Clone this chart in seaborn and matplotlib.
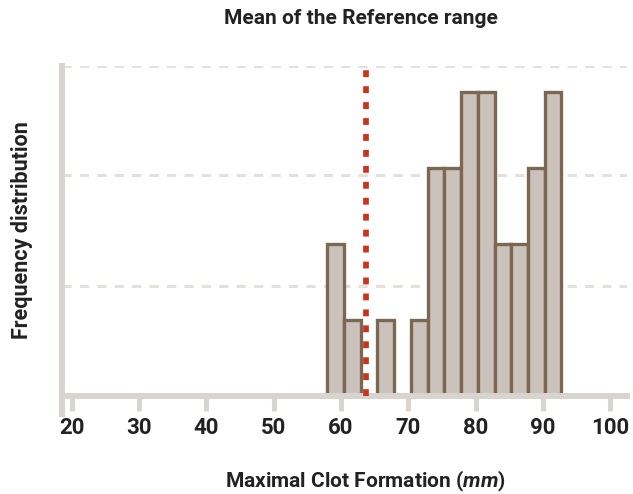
import matplotlib
matplotlib.use("Agg")
import matplotlib.pyplot as plt
import seaborn as sns

# ==========================================
# Data
# ==========================================

# bin centres of the non-empty bins and their frequencies
clot_values = [59.2, 61.7, 66.6, 71.6, 74.1, 76.6, 79.1, 81.6, 84.1, 86.5, 89.0, 91.5]
frequency = [2, 1, 1, 1, 3, 3, 4, 4, 2, 2, 3, 4]

reference_mean = 63.7
x_ticks = [20, 30, 40, 50, 60, 70, 80, 90, 100]

# ==========================================
# Style
# ==========================================

sns.set_style("white")
plt.rcParams["font.family"] = ["Roboto", "DejaVu Sans"]
plt.rcParams["mathtext.fontset"] = "custom"
plt.rcParams["mathtext.it"] = "Roboto:italic:bold"
plt.rcParams["mathtext.rm"] = "Roboto:bold"

TEXT = "#222222"
SPINE = "#d9d4ce"
GRID = "#e4e0da"
BAR_FACE = "#cbc2bb"
BAR_EDGE = "#7b6853"
RED = "#c9331f"

W, H = 633, 494
fig = plt.figure(figsize=(W / 100, H / 100), dpi=100)
ax = fig.add_axes([62 / W, 1 - 414 / H, (626.7 - 62) / W, (414 - 66) / H])

sns.histplot(
    x=clot_values,
    weights=frequency,
    bins=14,
    binrange=(57.95, 92.75),
    color=BAR_FACE,
    alpha=1,
    edgecolor=BAR_EDGE,
    linewidth=2.4,
    ax=ax,
    zorder=2,
)

y_top = 4.348
ax.set_xlim(18.56, 102.44)
ax.set_ylim(-0.237, y_top)

# spines first: moving a spine resets the tick settings
for side in ["top", "right"]:
    ax.spines[side].set_visible(False)
ax.spines["bottom"].set_position(("data", 0))
for side in ["left", "bottom"]:
    ax.spines[side].set_color(SPINE)
    ax.spines[side].set_linewidth(4.3)
ax.spines["bottom"].set_zorder(3)

ax.vlines(reference_mean, 0, y_top, color=RED, linewidth=4.1,
          linestyles=[(0, (1.2, 1.6))], zorder=4)

# grid
ax.set_yticks([1.453, 2.906, y_top])
ax.set_yticklabels([])
ax.grid(axis="y", color=GRID, linewidth=2.2, linestyle=(0, (3, 2.7)))
ax.set_axisbelow(True)

ax.set_xticks(x_ticks)
ax.set_xticklabels([str(t) for t in x_ticks], fontsize=16, fontweight="bold", color=TEXT)
ax.tick_params(axis="x", bottom=True, direction="out", length=11, width=3.6,
               color=SPINE, pad=4)
ax.tick_params(axis="y", left=False, length=0)

ax.set_xlabel("")
ax.set_ylabel("")

fig.text(361 / W, 1 - 18 / H, "Mean of the Reference range", ha="center", va="center",
         fontsize=15, fontweight="bold", color=TEXT)
fig.text(365 / W, 1 - 481 / H, r"Maximal Clot Formation $\it{(mm)}$", ha="center",
         va="center", fontsize=15, fontweight="bold", color=TEXT)
fig.text(22 / W, 1 - 230 / H, "Frequency distribution", ha="center", va="center",
         rotation=90, fontsize=15.5, fontweight="bold", color=TEXT)

fig.savefig("out.png", dpi=100)
